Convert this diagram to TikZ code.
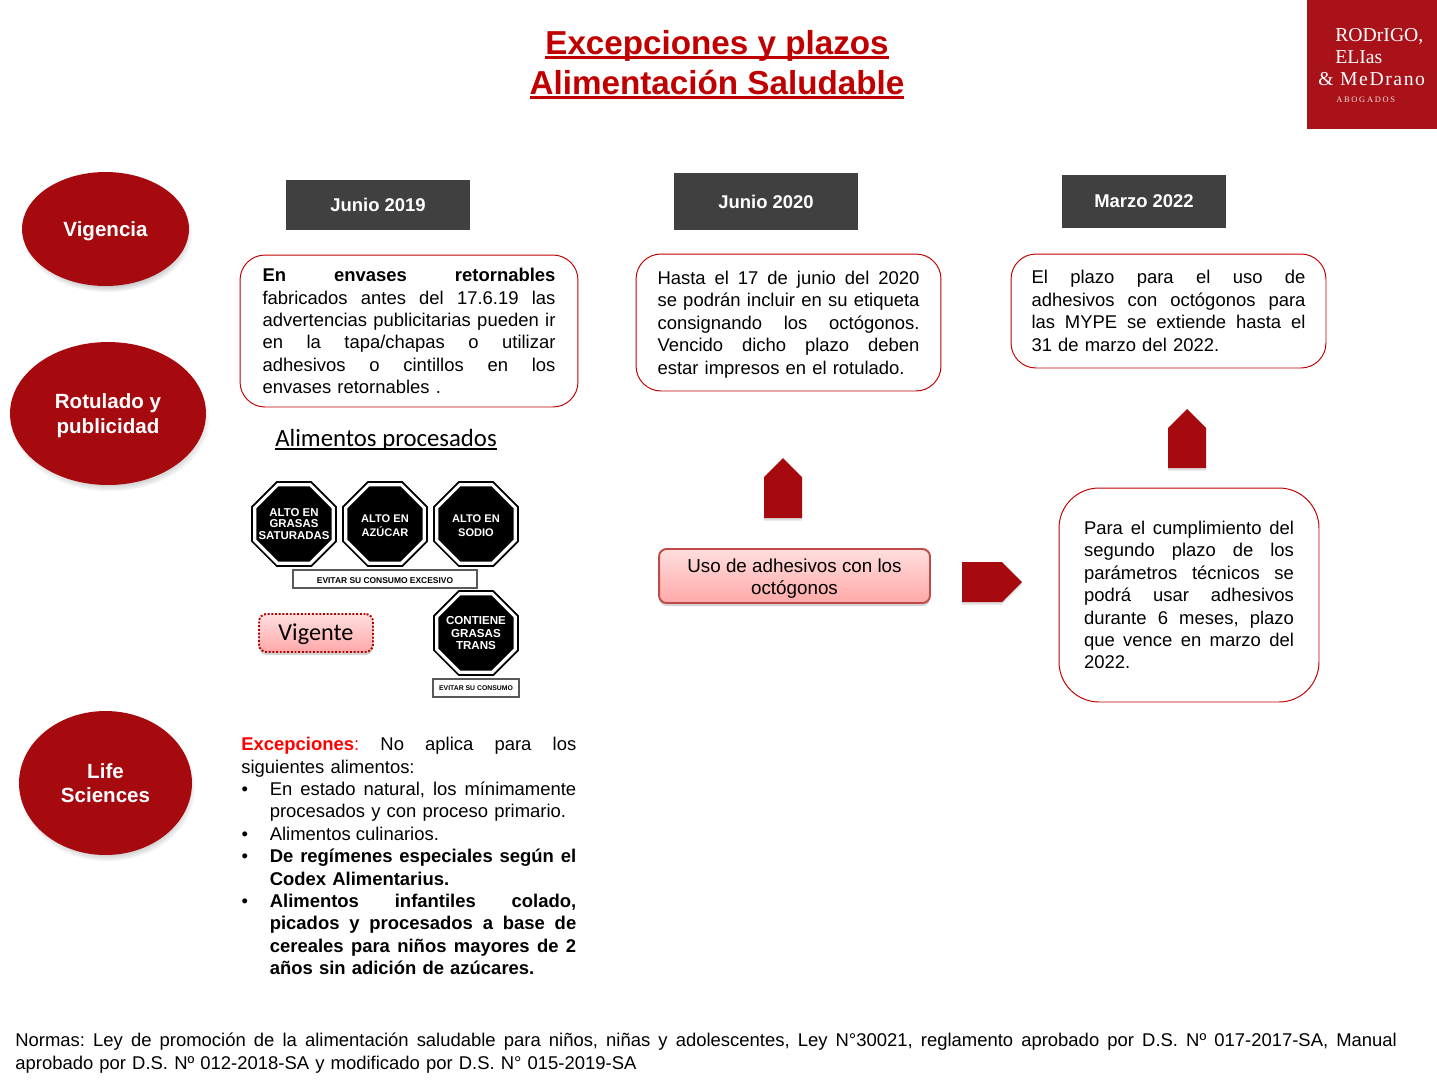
\documentclass[tikz,border=0pt]{standalone}
\usepackage{fontspec}
\setmainfont{Liberation Sans}
\newfontfamily\calibrifont{Carlito}
\newfontfamily\logofont{Liberation Serif}
\usetikzlibrary{
  positioning,
  shadows,
  shapes.geometric
}
\definecolor{rmred}{RGB}{166,9,14}
\definecolor{logored}{RGB}{170,18,26}
\definecolor{titlered}{RGB}{192,0,0}
\definecolor{dategray}{RGB}{64,64,64}
\definecolor{pinktop}{RGB}{255,222,222}
\definecolor{pinkbot}{RGB}{255,168,168}
\definecolor{pinkline}{RGB}{190,75,72}
\hbadness=10000
\hfuzz=20pt
\frenchspacing
% one printed line, stretched to the full width
\newcommand\jl[1]{\hbox to\linewidth{\spaceskip=.278em plus 1fil\relax #1}}
\newcommand\el[1]{\hbox to\linewidth{#1\hfill}}
% bullet line, and the lines that hang below it
\newcommand\bl[1]{\hbox to\linewidth{\spaceskip=.278em plus 1fil\relax \hbox to 16.2pt{\hspace{0.2pt}\textbullet\hss}#1}}
\newcommand\il[1]{\hbox to\linewidth{\spaceskip=.278em plus 1fil\relax \hspace{16.2pt}#1}}
\newcommand\ilend[1]{\hbox to\linewidth{\hspace{16.2pt}#1\hfill}}
% underline that runs through the descenders
\newcommand\ulin[1]{\setbox0\hbox{#1}\rlap{\rule[-.14em]{\wd0}{.075em}}\box0}
\tikzset{
  sidelabel/.style={ellipse,fill=rmred,text=white,align=center,inner sep=0pt,
    font=\fontsize{11.7}{14}\selectfont\bfseries,
    circular drop shadow={shadow xshift=0.03cm,shadow yshift=-0.1cm,shadow scale=1.02,opacity=.55}},
  datebox/.style={fill=dategray,text=white,inner sep=0pt,
    font=\fontsize{10.5}{12}\selectfont\bfseries},
  textbox/.style={draw=titlered,line width=0.55pt,rounded corners=0.5cm,fill=white,
    inner ysep=0pt,font=\fontsize{10.5}{12.75}\selectfont},
  plainblock/.style={inner sep=0pt,font=\fontsize{10.5}{12.75}\selectfont},
  blockarrow/.style={fill=rmred,drop shadow={shadow xshift=0pt,shadow yshift=-0.05cm,opacity=.25}},
  octagon/.style={regular polygon,regular polygon sides=8,
    minimum size=1.7cm,inner sep=0pt,outer sep=0pt,draw=black,line width=1.1pt,double=white,
    double distance=1.8pt,fill=black},
  octtext/.style={text=white,align=center,inner sep=0pt},
  warnbox/.style={draw=black!65,line width=0.6pt,fill=white,inner sep=0pt},
  pinkbox/.style={top color=pinktop,bottom color=pinkbot,rounded corners=0.15cm,inner sep=0pt,
    align=center,drop shadow={shadow xshift=0pt,shadow yshift=-0.06cm,opacity=.35}}
}
\begin{document}
\begin{tikzpicture}[x=0.02cm,y=-0.02cm]
\useasboundingbox (0,0) rectangle (1437,1086);
% title
\node[text=titlered,align=center,inner sep=0pt,font=\fontsize{18.9}{22.7}\selectfont\bfseries] (title) at (717,64.5)
  {\ulin{Excepciones y plazos}\\ \ulin{Alimentación Saludable}};
% logo
\fill[logored] (1307,0) rectangle (1437,129);
\node[anchor=base west,inner sep=0pt,text=white,font=\fontsize{11.2}{13}\logofont] (logoa) at (1335,41) {RODrIGO,};
\node[anchor=base west,inner sep=0pt,text=white,font=\fontsize{11.2}{13}\logofont] (logob) at (1335,63) {ELIas};
\node[anchor=base west,inner sep=0pt,text=white,font=\fontsize{11.2}{13}\logofont\addfontfeature{LetterSpace=8}] (logoc) at (1318,85) {\& MeDrano};
\node[anchor=base west,inner sep=0pt,text=white!85!logored,font=\fontsize{4.8}{5}\logofont\addfontfeature{LetterSpace=20}] (logod) at (1336,102) {ABOGADOS};
% side labels
\node[sidelabel,minimum width=3.34cm,minimum height=2.28cm] (vigencia) at (105.5,229) {\rule{0pt}{11.5pt}Vigencia};
\node[sidelabel,minimum width=3.92cm,minimum height=2.86cm] (rotulado) at (108,413.5) {\rule{0pt}{10.8pt}Rotulado y\\publicidad};
\node[sidelabel,minimum width=3.46cm,minimum height=2.88cm] (life) at (105.5,783) {Life\\Sciences};
% dates
\foreach \n/\cx/\cy/\w/\h/\t in {datea/378/205/184/50/Junio 2019,dateb/766/201.5/184/57/Junio 2020,datec/1144/201.5/164/53/Marzo 2022}{
  \node[datebox,minimum width=\w*0.02cm,minimum height=\h*0.02cm] (\n) at (\cx,\cy) {\t};
}
% text boxes
\node[textbox,text width=5.86cm,inner xsep=0.45cm,minimum height=3.04cm] (boxa) at (409,331) {%
  \jl{\textbf{En envases retornables}}
  \jl{fabricados antes del 17.6.19 las}
  \jl{advertencias publicitarias pueden ir}
  \jl{en la tapa/chapas o utilizar}
  \jl{adhesivos o cintillos en los}
  \el{envases retornables .}};
\node[textbox,text width=5.24cm,inner xsep=0.43cm,minimum height=2.74cm] (boxb) at (788.5,322.5) {%
  \jl{\rule{0pt}{10pt}Hasta el 17 de junio del 2020}
  \jl{se podrán incluir en su etiqueta}
  \jl{consignando los octógonos.}
  \jl{Vencido dicho plazo deben}
  \el{estar impresos en el rotulado.}};
\node[textbox,text width=5.48cm,inner xsep=0.41cm,minimum height=2.28cm] (boxc) at (1168.5,311) {%
  \jl{El plazo para el uso de}
  \jl{adhesivos con octógonos para}
  \jl{las MYPE se extiende hasta el}
  \el{31 de marzo del 2022.}};
\node[textbox,rounded corners=0.8cm,text width=4.2cm,inner xsep=0.5cm,minimum height=4.28cm] (boxd) at (1189,595) {%
  \jl{Para el cumplimiento del}
  \jl{segundo plazo de los}
  \jl{parámetros técnicos se}
  \jl{podrá usar adhesivos}
  \jl{durante 6 meses, plazo}
  \jl{que vence en marzo del}
  \el{2022.}};
% arrows
\fill[blockarrow] (764,518) -- (764,477) -- (783,458) -- (802,477) -- (802,518) -- cycle;
\fill[blockarrow] (1168,468) -- (1168,428) -- (1187,409) -- (1206,428) -- (1206,468) -- cycle;
\fill[blockarrow] (962,562) -- (1002,562) -- (1022,582) -- (1002,602) -- (962,602) -- cycle;
% adhesive note
\node[pinkbox,draw=pinkline,line width=1.1pt,minimum width=5.42cm,minimum height=1.08cm,
  font=\fontsize{10.7}{13}\selectfont] (adhesivo) at (794.5,576) {\rule{0pt}{10.8pt}Uso de adhesivos con los\\octógonos};
% stickers
\node[inner sep=0pt,font=\fontsize{14.1}{16}\calibrifont] (procesados) at (386,440) {\ulin{Alimentos procesados}};
\node[octagon] (octa) at (294,524) {};
\node[octagon] (octb) at (385,524) {};
\node[octagon] (octc) at (476,524) {};
\node[octagon] (octd) at (476,633) {};
\node[octtext,font=\fontsize{6.5}{6.6}\selectfont\bfseries] (octatext) at (octa) {ALTO EN\\GRASAS\\SATURADAS};
\node[octtext,font=\fontsize{6.3}{8}\selectfont\bfseries] (octbtext) at (385,526) {ALTO EN\\AZÚCAR};
\node[octtext,font=\fontsize{6.3}{8}\selectfont\bfseries] (octctext) at (476,526) {ALTO EN\\SODIO};
\node[octtext,font=\fontsize{6.6}{6.9}\selectfont\bfseries] (octdtext) at (octd) {CONTIENE\\GRASAS\\TRANS};
\node[warnbox,minimum width=3.68cm,minimum height=0.36cm,font=\fontsize{4.8}{5}\selectfont\bfseries] (warna) at (385,579) {\rule{0pt}{5.7pt}EVITAR SU CONSUMO EXCESIVO};
\node[warnbox,minimum width=1.72cm,minimum height=0.36cm,font=\fontsize{3.9}{4}\selectfont\bfseries] (warnb) at (476,688) {EVITAR SU CONSUMO};
\node[pinkbox,draw=red!70!black,line width=1.1pt,densely dotted,minimum width=2.28cm,minimum height=0.76cm,
  font=\fontsize{13.8}{15}\calibrifont] (vigente) at (316,633) {\rule{0pt}{11pt}Vigente};
% exceptions
\node[plainblock,text width=6.7cm,anchor=north west] (excepciones) at (241,737) {%
  \jl{\textcolor{red}{\textbf{Excepciones}:} No aplica para los}
  \el{siguientes alimentos:}
  \bl{En estado natural, los mínimamente}
  \ilend{procesados y con proceso primario.}
  \bl{Alimentos culinarios.\hfill}
  \bl{\textbf{De regímenes especiales según el}}
  \ilend{\textbf{Codex Alimentarius.}}
  \bl{\textbf{Alimentos infantiles colado,}}
  \il{\textbf{picados y procesados a base de}}
  \il{\textbf{cereales para niños mayores de 2}}
  \ilend{\textbf{años sin adición de azúcares.}}};
% legal note
\node[plainblock,text width=27.64cm,anchor=north west] (normas) at (15,1033) {%
  \jl{Normas: Ley de promoción de la alimentación saludable para niños, niñas y adolescentes, Ley N°30021, reglamento aprobado por D.S. Nº 017-2017-SA, Manual}
  \el{aprobado por D.S. Nº 012-2018-SA y modificado por D.S. N° 015-2019-SA}};
\end{tikzpicture}
\end{document}
